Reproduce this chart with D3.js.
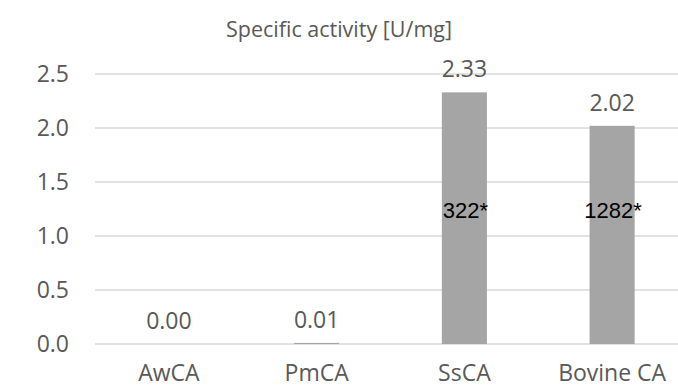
<!DOCTYPE html>
<html>
<head>
<meta charset="utf-8">
<script src="https://cdn.jsdelivr.net/npm/d3@7"></script>
<style>
  body { margin: 0; background: #fff; }
  text { font-family: "Open Sans", sans-serif; fill: #595959; }
</style>
</head>
<body>
<svg width="678" height="387"></svg>
<script>
var categories = ["AwCA", "PmCA", "SsCA", "Bovine CA"];
var activity = [0.00, 0.01, 2.33, 2.02];
var valueLabels = ["0.00", "0.01", "2.33", "2.02"];
var notes = ["", "", "322*", "1282*"];
var yTicks = [0, 0.5, 1.0, 1.5, 2.0, 2.5];

var svg = d3.select("svg"),
    margin = {top: 74, right: -8, bottom: 43, left: 95},
    width = +svg.attr("width") - margin.left - margin.right,
    height = +svg.attr("height") - margin.top - margin.bottom;

var x = d3.scaleBand().range([0, width]).paddingInner(0.695).paddingOuter(0.3475),
    y = d3.scaleLinear().domain([0, 2.5]).range([height, 0]);

svg.append("text")
    .attr("x", 339)
    .attr("y", 37)
    .attr("text-anchor", "middle")
    .style("font-size", "21.5px")
    .text("Specific activity [U/mg]");

var g = svg.append("g")
    .attr("transform", "translate(" + margin.left + "," + margin.top + ")");

x.domain(categories);

// gridlines
g.selectAll(".grid")
  .data(yTicks)
  .enter().append("line")
    .attr("class", "grid")
    .attr("x1", 0)
    .attr("x2", width)
    .attr("y1", function(d) { return y(d); })
    .attr("y2", function(d) { return y(d); })
    .attr("stroke", "#d9d9d9")
    .attr("stroke-width", 1.3);

var yAxis = g.append("g")
    .call(d3.axisLeft(y).tickValues(yTicks).tickFormat(d3.format(".1f")).tickSize(0).tickPadding(26));
yAxis.select(".domain").remove();
yAxis.selectAll("text")
    .style("font-size", "23px")
    .style("font-family", "'Open Sans', sans-serif")
    .attr("fill", "#595959");

var xAxis = g.append("g")
    .attr("transform", "translate(0," + height + ")")
    .call(d3.axisBottom(x).tickSize(0).tickPadding(21));
xAxis.select(".domain").remove();
xAxis.selectAll("text")
    .style("font-size", "23px")
    .style("font-family", "'Open Sans', sans-serif")
    .attr("fill", "#595959");

g.selectAll(".bar")
  .data(activity)
  .enter().append("rect")
    .attr("class", "bar")
    .attr("x", function(d, i) { return x(categories[i]); })
    .attr("y", function(d) { return y(d); })
    .attr("width", x.bandwidth())
    .attr("height", function(d) { return height - y(d); })
    .attr("fill", "#a5a5a5");

g.selectAll(".val")
  .data(activity)
  .enter().append("text")
    .attr("class", "val")
    .attr("x", function(d, i) { return x(categories[i]) + x.bandwidth() / 2; })
    .attr("y", function(d) { return y(d) - 15; })
    .attr("text-anchor", "middle")
    .style("font-size", "23px")
    .text(function(d, i) { return valueLabels[i]; });

var noteLevel = 1.24;
g.selectAll(".note")
  .data(notes)
  .enter().append("text")
    .attr("class", "note")
    .attr("x", function(d, i) { return x(categories[i]) + x.bandwidth() / 2 + 1; })
    .attr("y", y(noteLevel))
    .attr("dy", "0.35em")
    .attr("text-anchor", "middle")
    .style("font-family", "'Liberation Sans', Arial, sans-serif")
    .style("font-size", "22px")
    .style("fill", "#000")
    .text(function(d) { return d; });
</script>
</body>
</html>
